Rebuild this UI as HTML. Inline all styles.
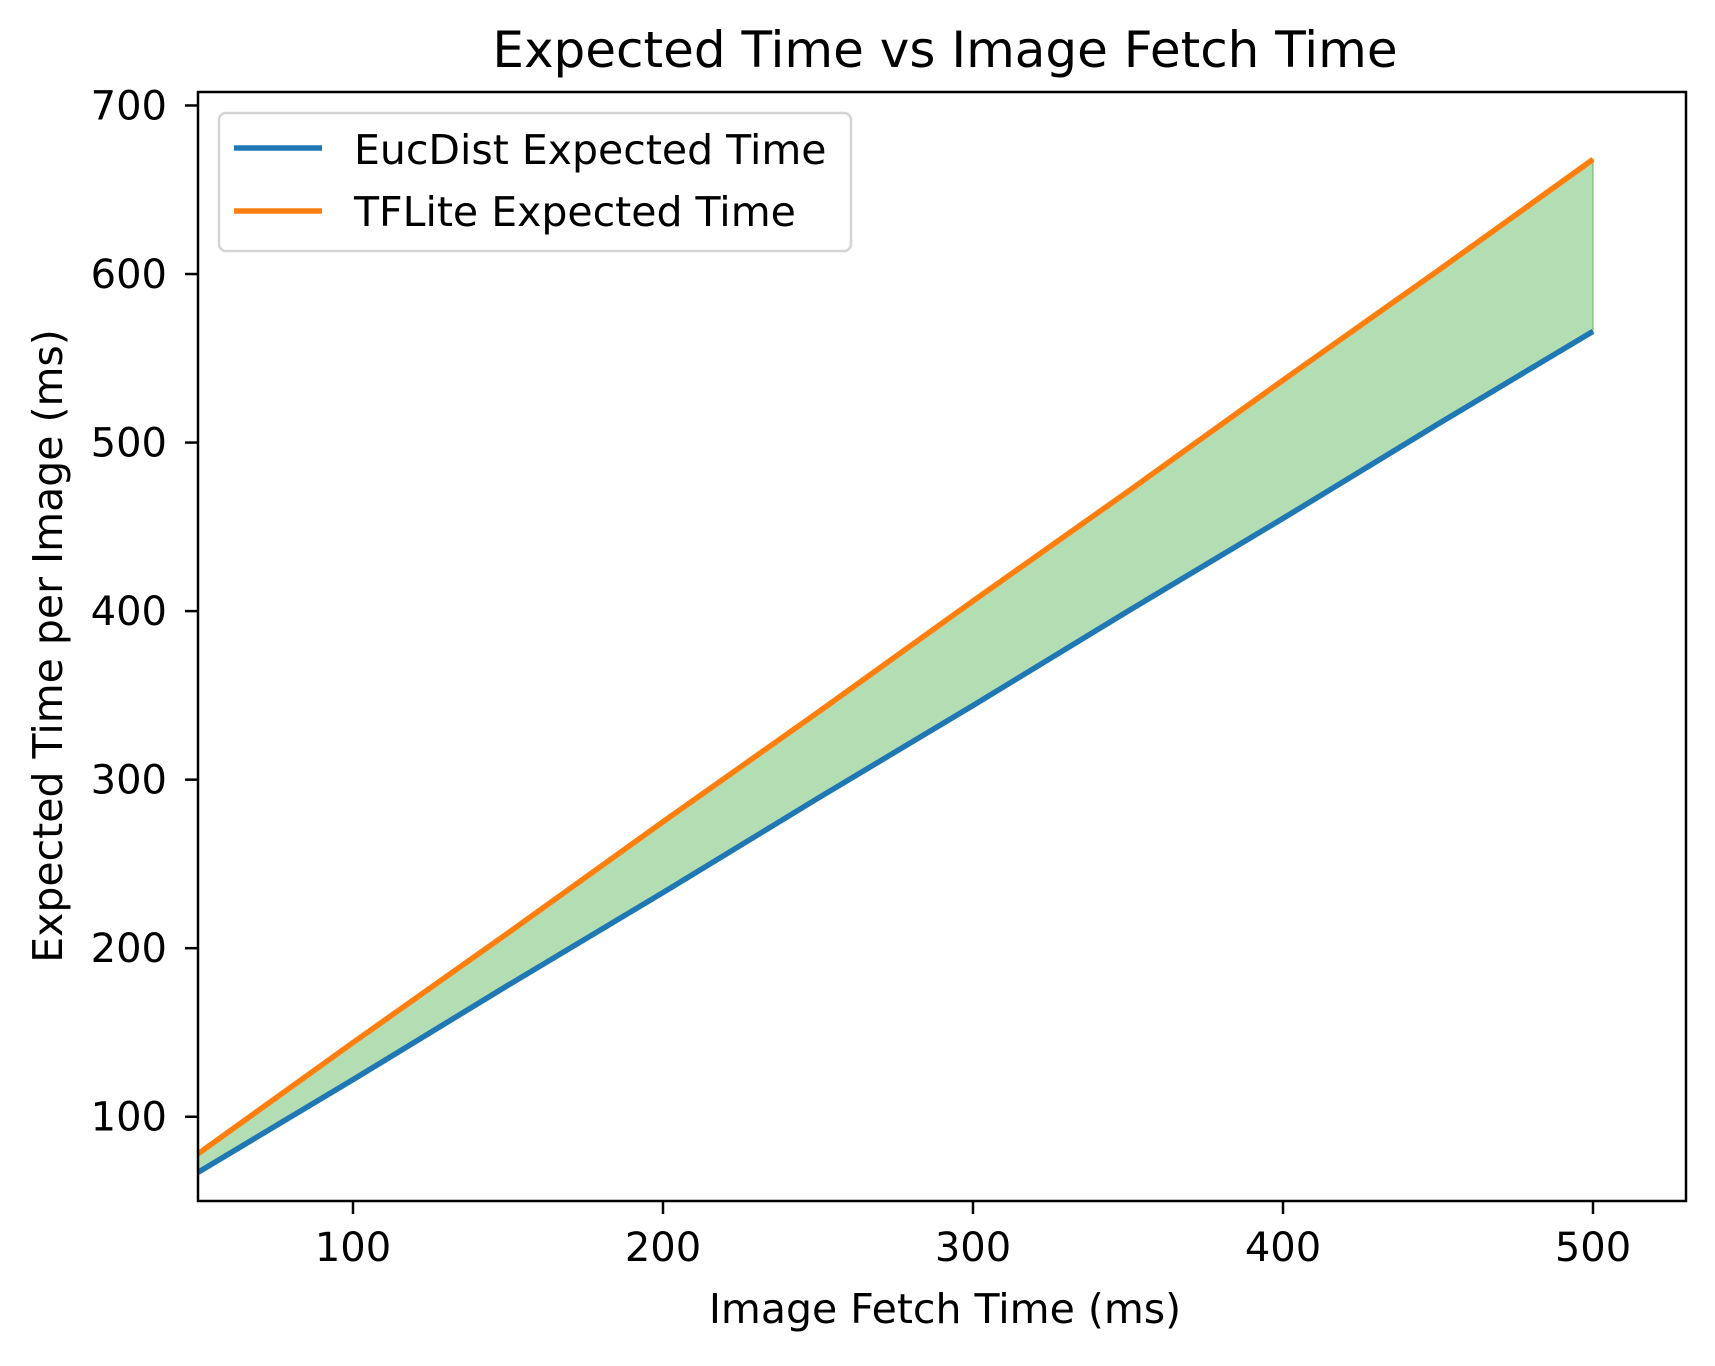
<!DOCTYPE html>
<html><head><meta charset="utf-8"><style>
html,body{margin:0;padding:0;background:#fff;}
svg text{font-family:"DejaVu Sans","Liberation Sans",sans-serif;fill:#000;}
</style></head><body>
<svg id="chart" width="1715" height="1361" viewBox="0 0 1715 1361" xmlns="http://www.w3.org/2000/svg">
<rect width="1715" height="1361" fill="#fff"/>
<g id="plot"></g>
</svg>
<script>
const xValues=[50,100,150,200,250,300,350,400,450,500];
const eucValues=[67,122,178,233,289,344,400,455,511,566];
const tfliteValues=[78,144,209,275,340,406,471,537,602,668];
const xTicks=[100,200,300,400,500];
const yTicks=[100,200,300,400,500,600,700];
const L=198,R=1686,T=92,B=1201;
const xMin=50,xMax=530,yMin=50,yMax=708;
function sx(v){return L+(v-xMin)/(xMax-xMin)*(R-L);}
function sy(v){return B-(v-yMin)/(yMax-yMin)*(B-T);}
const NS="http://www.w3.org/2000/svg";
const g=document.getElementById('plot');
function mk(tag,attrs,parent){const e=document.createElementNS(NS,tag);for(const k in attrs)e.setAttribute(k,attrs[k]);(parent||g).appendChild(e);return e;}
let d='M'+xValues.map((x,i)=>sx(x)+','+sy(tfliteValues[i])).join('L');
for(let i=xValues.length-1;i>=0;i--)d+='L'+sx(xValues[i])+','+sy(eucValues[i]);
d+='Z';
const fill=mk('path',{d:d,fill:'#2ca02c','fill-opacity':'0.36',stroke:'#2ca02c','stroke-opacity':'0.36','stroke-width':'2'});


const pb=mk('polyline',{points:xValues.map((x,i)=>sx(x)+','+sy(eucValues[i])).join(' '),fill:'none',stroke:'#1f77b4','stroke-width':'5.5'});


const po=mk('polyline',{points:xValues.map((x,i)=>sx(x)+','+sy(tfliteValues[i])).join(' '),fill:'none',stroke:'#ff7f0e','stroke-width':'5.5'});


const fr=mk('rect',{x:L,y:T,width:R-L,height:B-T,fill:'none',stroke:'#000','stroke-width':'2.5'});


xTicks.forEach(v=>{
 const t=mk('line',{x1:sx(v),x2:sx(v),y1:B,y2:B+13,stroke:'#000','stroke-width':'2.5'});
 
 
 const tx=mk('text',{x:sx(v),y:B+60,'text-anchor':'middle','font-size':'40'});
 tx.textContent=v;
 
 
});
yTicks.forEach(v=>{
 const t=mk('line',{x1:L-13,x2:L,y1:sy(v),y2:sy(v),stroke:'#000','stroke-width':'2.5'});
 
 
 const tx=mk('text',{x:L-31,y:sy(v)+14,'text-anchor':'end','font-size':'40'});
 tx.textContent=v;
 
 
});
</script>
<svg style="position:absolute;left:0;top:0" width="1715" height="1361" xmlns="http://www.w3.org/2000/svg">
<text x="945" y="67" text-anchor="middle" font-size="50">Expected Time vs Image Fetch Time</text>
<text x="945" y="1323" text-anchor="middle" font-size="41">Image Fetch Time (ms)</text>
<text x="0" y="0" transform="translate(62,646) rotate(-90)" text-anchor="middle" font-size="41">Expected Time per Image (ms)</text>
<g>
<rect x="219" y="113" width="632" height="138" rx="7" fill="#fff" fill-opacity="0.8" stroke="#d4d4d4" stroke-width="2.5"/>
<line x1="234" x2="322" y1="148" y2="148" stroke="#1f77b4" stroke-width="5.5"/>
<text x="354" y="164" font-size="41">EucDist Expected Time</text>
<line x1="234" x2="322" y1="211" y2="211" stroke="#ff7f0e" stroke-width="5.5"/>
<text x="354" y="226" font-size="41">TFLite Expected Time</text>
</g>
</svg>
</body></html>
